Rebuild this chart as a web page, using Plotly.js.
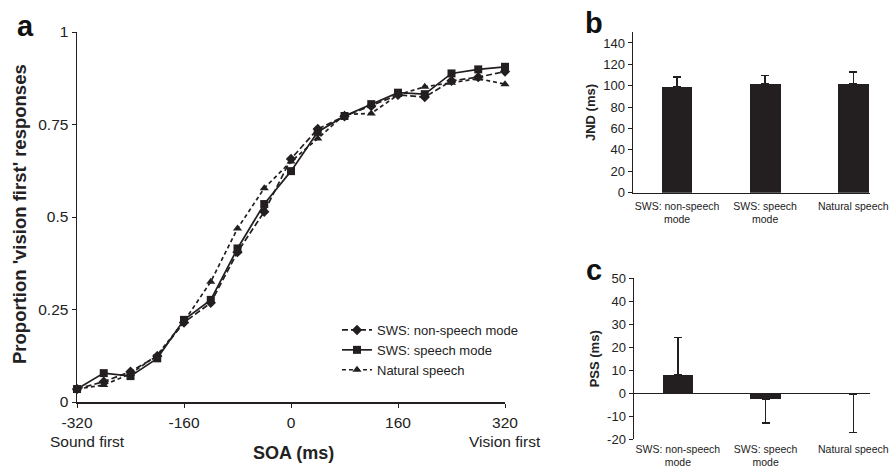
<!DOCTYPE html>
<html>
<head>
<meta charset="utf-8">
<script src="https://cdn.plot.ly/plotly-3.0.1.min.js"></script>
<style>html,body{margin:0;padding:0;background:#fff}#chart{width:889px;height:470px}</style>
</head>
<body>
<div id="chart"></div>
<script>
// ---- Data ----
var soa = [-320,-280,-240,-200,-160,-120,-80,-40,0,40,80,120,160,200,240,280,320];
var nonSpeech = [0.035,0.055,0.082,0.124,0.215,0.268,0.405,0.514,0.657,0.738,0.772,0.800,0.830,0.824,0.868,0.878,0.893];
var speechMode = [0.035,0.078,0.070,0.118,0.222,0.276,0.415,0.535,0.624,0.730,0.773,0.805,0.836,0.832,0.888,0.899,0.906];
var natural = [0.035,0.046,0.076,0.127,0.218,0.325,0.469,0.578,0.650,0.712,0.777,0.780,0.830,0.852,0.863,0.874,0.859];
var seriesNames = ['SWS: non-speech mode','SWS: speech mode','Natural speech'];
var conditions = ['SWS: non-speech<br>mode','SWS: speech<br>mode','Natural speech'];
var jnd = [99,101.5,101.5];
var jndErr = [9.3,8.1,11.5];
var pss = [8,-2.6,-0.5];
var pssErrUp = [16.3,0,0];
var pssErrDown = [0,10.4,16.6];
var xTicks = [-320,-160,0,160,320];
var xTickText = ['-320','-160','0','160','320'];
var yTicks = [0,0.25,0.5,0.75,1];
var yTickText = ['0','0.25','0.5','0.75','1'];
var jndTicks = [0,20,40,60,80,100,120,140];
var pssTicks = [-20,-10,0,10,20,30,40,50];
var pssTickText = ['-20','-10','0','10','20','30','40','50'];

var ink = '#231f20';
var font = 'Liberation Sans, Arial, sans-serif';
var W = 889, H = 470;
function px(x){return x/W;}
function py(y){return (H-y)/H;}

var traces = [
  {x: soa, y: nonSpeech, name: seriesNames[0], type:'scatter', mode:'lines+markers',
   line:{color:ink,width:1.7,dash:'6px,3px'}, marker:{symbol:'diamond',size:8,color:ink},
   xaxis:'x', yaxis:'y', cliponaxis:false},
  {x: soa, y: speechMode, name: seriesNames[1], type:'scatter', mode:'lines+markers',
   line:{color:ink,width:1.7}, marker:{symbol:'square',size:8,color:ink},
   xaxis:'x', yaxis:'y', cliponaxis:false},
  {x: soa, y: natural, name: seriesNames[2], type:'scatter', mode:'lines+markers',
   line:{color:ink,width:1.7,dash:'4px,3px'}, marker:{symbol:'triangle-up',size:8,color:ink},
   xaxis:'x', yaxis:'y', cliponaxis:false},
  {x: conditions, y: jnd, type:'bar', width:0.35, marker:{color:ink}, showlegend:false,
   error_y:{type:'data', symmetric:false, array:jndErr, arrayminus:[0,0,0], color:ink, thickness:1.5, width:4},
   xaxis:'x2', yaxis:'y2'},
  {x: conditions, y: pss, type:'bar', width:0.35, marker:{color:ink}, showlegend:false,
   error_y:{type:'data', symmetric:false, array:pssErrUp, arrayminus:pssErrDown, color:ink, thickness:1.5, width:4},
   xaxis:'x3', yaxis:'y3', cliponaxis:false}
];

var tickFont = {family:font, size:15.5, color:'#222'};
var smallTick = {family:font, size:13, color:'#222'};
var catFont = {family:font, size:10.5, color:'#222'};

function ann(text, x, y, size, extra){
  var a = {text:text, x:px(x), y:py(y), xref:'paper', yref:'paper', showarrow:false,
           xanchor:'center', yanchor:'middle', font:{family:font,size:size,color:'#222'}};
  if (extra) for (var k in extra) a[k] = extra[k];
  return a;
}

var layout = {
  width: W, height: H,
  margin:{l:0,r:0,t:0,b:0},
  paper_bgcolor:'#fff', plot_bgcolor:'#fff',
  showlegend:true,
  bargap:0,
  legend:{x:px(337), y:py(315), xanchor:'left', yanchor:'top', font:{family:font,size:13,color:'#222'},
          bgcolor:'rgba(0,0,0,0)', itemwidth:30, tracegroupgap:0},
  xaxis:{domain:[px(77),px(505)], range:[-320,320], tickvals:xTicks, ticktext:xTickText, ticks:'outside', ticklen:4,
         tickcolor:ink, showline:true, linecolor:ink, linewidth:1.5, showgrid:false, zeroline:false,
         tickfont:tickFont, anchor:'y', ticklabelstandoff:2},
  yaxis:{domain:[py(402),py(32)], range:[0,1], tickvals:yTicks, ticktext:yTickText, ticks:'outside', ticklen:4,
         tickcolor:ink, showline:true, linecolor:ink, linewidth:1.5, showgrid:false, zeroline:false,
         tickfont:tickFont, anchor:'x'},
  xaxis2:{domain:[px(633),px(870)], range:[-0.5,2.19], type:'category', showline:true, linecolor:ink, linewidth:1.5,
          ticks:'', showgrid:false, zeroline:false, tickfont:catFont, anchor:'y2', tickangle:0, ticklabelstandoff:3},
  yaxis2:{domain:[py(192.7),py(32.3)], range:[0,150], tickvals:jndTicks, ticks:'outside', ticklen:4,
          tickcolor:ink, showline:true, linecolor:ink, linewidth:1.5, showgrid:false, zeroline:false,
          tickfont:smallTick, anchor:'x2',
          title:{text:'<b>JND (ms)</b>', font:{family:font,size:13,color:'#222'}, standoff:4}},
  xaxis3:{domain:[px(634),px(870)], range:[-0.5,2.19], type:'category', showline:false,
          ticks:'', showgrid:false, zeroline:false, tickfont:catFont, anchor:'y3', tickangle:0, ticklabelstandoff:2},
  yaxis3:{domain:[py(439.3),py(278.3)], range:[-20,50], tickvals:pssTicks, ticktext:pssTickText, ticks:'outside', ticklen:4,
          tickcolor:ink, showline:true, linecolor:ink, linewidth:1.5, showgrid:false,
          zeroline:true, zerolinecolor:ink, zerolinewidth:1.5,
          tickfont:smallTick, anchor:'x3',
          title:{text:'<b>PSS (ms)</b>', font:{family:font,size:13,color:'#222'}, standoff:4}},
  annotations:[
    ann('<b>a</b>', 25, 26, 29, {font:{family:font,size:29,color:'#111'}}),
    ann('<b>b</b>', 594, 23, 29, {font:{family:font,size:29,color:'#111'}}),
    ann('<b>c</b>', 594, 270, 29, {font:{family:font,size:29,color:'#111'}}),
    ann('<b>Proportion \'vision first\' responses</b>', 19, 214, 18.5, {textangle:-90}),
    ann('<b>SOA (ms)</b>', 293, 453, 18),
    ann('Sound first', 87, 441, 15.5),
    ann('Vision first', 505, 441, 15.5)
  ]
};

Plotly.newPlot('chart', traces, layout, {displayModeBar:false, staticPlot:true});
</script>
</body>
</html>
